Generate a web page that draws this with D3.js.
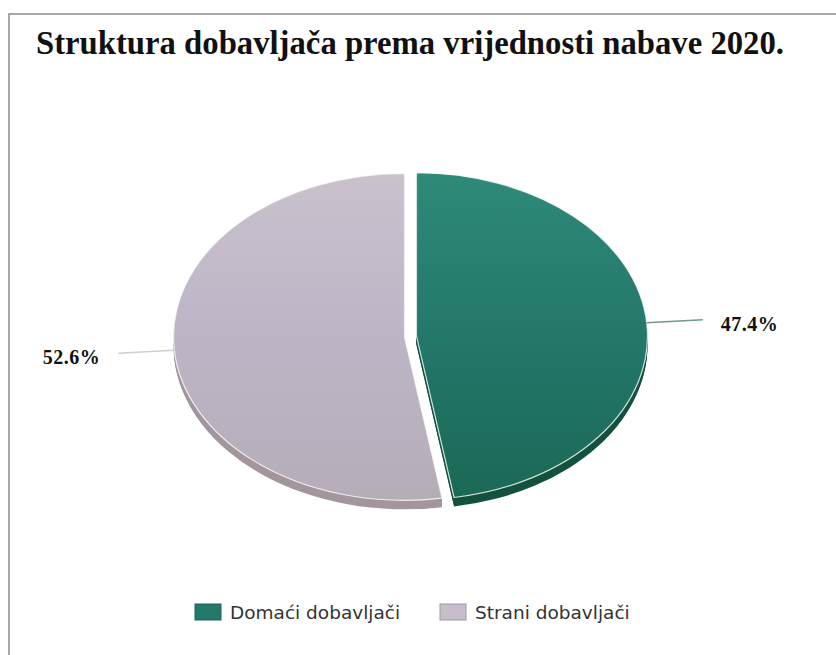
<!DOCTYPE html>
<html>
<head>
<meta charset="utf-8">
<script src="https://cdn.jsdelivr.net/npm/d3@7"></script>
<style>
  body { margin: 0; background: #fff; }
  .title { font-family: "Liberation Serif", "Times New Roman", serif; font-weight: bold; font-size: 34px; fill: #111; }
  .pct { font-family: "Liberation Serif", serif; font-weight: bold; font-size: 20px; letter-spacing: 0.5px; fill: #111; }
  .legend { font-family: "DejaVu Sans", sans-serif; font-size: 18.5px; fill: #333; }
</style>
</head>
<body>
<svg id="chart" width="836" height="655"></svg>
<script>
// data
const categories = ['Domaći dobavljači', 'Strani dobavljači'];
const shares = [47.4, 52.6];
const labels = ['47.4%', '52.6%'];

const width = 836;
const height = 655;
const cx = 410.5;
const cy = 336.5;
const rx = 231;
const ry = 163.5;
const depth = 9;
const explode = 6;

const svg = d3.select('#chart');

const defs = svg.append('defs');
const grads = [
  { id: 'gGreen', stops: ['#2f8a78', '#23786a', '#1a6955'] },
  { id: 'gGrey', stops: ['#c9c1cb', '#bdb5c6', '#b5adb6'] }
];
grads.forEach((g) => {
  const lg = defs.append('linearGradient')
    .attr('id', g.id)
    .attr('x1', 0).attr('y1', 0).attr('x2', 0).attr('y2', 1);
  g.stops.forEach((c, i) => {
    lg.append('stop').attr('offset', i / (g.stops.length - 1)).attr('stop-color', c);
  });
});

const topColor = d3.scaleOrdinal().domain(categories).range(['url(#gGreen)', 'url(#gGrey)']);
const sideColor = d3.scaleOrdinal().domain(categories).range(['#14523f', '#a3969e']);
const swatchColor = d3.scaleOrdinal().domain(categories).range(['#23796a', '#c6bfcb']);

// frame
svg.append('line').attr('x1', 8).attr('y1', 14).attr('x2', width).attr('y2', 14)
  .attr('stroke', '#a8a8a8').attr('stroke-width', 2);
svg.append('line').attr('x1', 9).attr('y1', 14).attr('x2', 9).attr('y2', height)
  .attr('stroke', '#a8a8a8').attr('stroke-width', 2);

svg.append('text')
  .attr('class', 'title')
  .attr('x', 36)
  .attr('y', 54)
  .attr('textLength', 748)
  .attr('lengthAdjust', 'spacingAndGlyphs')
  .text('Struktura dobavljača prema vrijednosti nabave 2020.');

const pie = d3.pie().sort(null).value((d) => d.value);
const data = pie(categories.map((c, i) => ({ name: c, value: shares[i], label: labels[i] })));

const arc = d3.arc().innerRadius(0).outerRadius(rx);
const sy = ry / rx;

const offset = (d) => {
  const mid = (d.startAngle + d.endAngle) / 2;
  return [explode * Math.sin(mid), -explode * Math.cos(mid) * sy];
};

const pieG = svg.append('g');

// side walls: stacked copies shifted down
const layers = d3.range(depth, 0, -1);
layers.forEach((dy) => {
  pieG.append('g')
    .selectAll('path')
    .data(data)
    .enter()
    .append('path')
    .attr('transform', (d) => {
      const o = offset(d);
      return `translate(${cx + o[0]}, ${cy + o[1] + dy}) scale(1, ${sy})`;
    })
    .attr('d', arc)
    .attr('fill', (d) => sideColor(d.data.name));
});

// top faces
pieG.append('g')
  .selectAll('path')
  .data(data)
  .enter()
  .append('path')
  .attr('transform', (d) => {
    const o = offset(d);
    return `translate(${cx + o[0]}, ${cy + o[1]}) scale(1, ${sy})`;
  })
  .attr('d', arc)
  .attr('fill', (d) => topColor(d.data.name))
  .attr('stroke', 'rgba(255,255,255,0.8)')
  .attr('stroke-width', 1.2)
  .attr('vector-effect', 'non-scaling-stroke');

// leader lines + labels
data.forEach((d) => {
  const mid = (d.startAngle + d.endAngle) / 2;
  const o = offset(d);
  const ex = cx + o[0] + rx * Math.sin(mid);
  const ey = cy + o[1] - ry * Math.cos(mid);
  const side = Math.sin(mid) > 0 ? 1 : -1;
  const lx = ex + side * 56;
  const ly = ey - side * 3;
  svg.append('line')
    .attr('x1', ex).attr('y1', ey).attr('x2', lx).attr('y2', ly)
    .attr('stroke', side > 0 ? '#6c9a90' : '#cfcfcf')
    .attr('stroke-width', 1.5);
  svg.append('text')
    .attr('class', 'pct')
    .attr('x', lx + side * 18)
    .attr('y', ly + 11)
    .attr('text-anchor', side > 0 ? 'start' : 'end')
    .text(d.data.label);
});

// legend
const legend = svg.append('g').attr('transform', 'translate(195, 604)');
const legendX = d3.scaleOrdinal().domain(categories).range([0, 245]);
const item = legend.selectAll('g')
  .data(categories)
  .enter()
  .append('g')
  .attr('transform', (d) => `translate(${legendX(d)}, 0)`);
item.append('rect')
  .attr('width', 26).attr('height', 16)
  .attr('fill', (d) => swatchColor(d))
  .attr('stroke', (d) => d3.color(swatchColor(d)).darker(0.6))
  .attr('stroke-width', 1);
item.append('text')
  .attr('class', 'legend')
  .attr('x', 35)
  .attr('y', 15)
  .text((d) => d);
</script>
</body>
</html>
